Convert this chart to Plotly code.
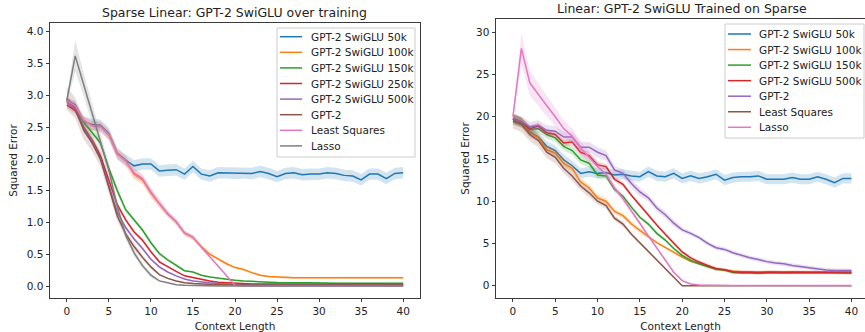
import plotly.graph_objects as go

# ---------------- data ----------------
x_ctx = list(range(41))
x_ticks = [0, 5, 10, 15, 20, 25, 30, 35, 40]

tab_colors = ["#1f77b4", "#ff7f0e", "#2ca02c", "#d62728", "#9467bd",
              "#8c564b", "#e377c2", "#7f7f7f"]

# Left panel: Sparse Linear, GPT-2 SwiGLU over training
left_title = "Sparse Linear: GPT-2 SwiGLU over training"
left_labels = ["GPT-2 SwiGLU 50k", "GPT-2 SwiGLU 100k", "GPT-2 SwiGLU 150k",
               "GPT-2 SwiGLU 250k", "GPT-2 SwiGLU 500k", "GPT-2",
               "Least Squares", "Lasso"]
left_yticks = [0.0, 0.5, 1.0, 1.5, 2.0, 2.5, 3.0, 3.5, 4.0]

L_50k = [2.92, 2.85, 2.59, 2.54, 2.53, 2.40, 2.09, 1.98, 1.89, 1.92,
         1.92, 1.81, 1.82, 1.83, 1.76, 1.88, 1.76, 1.73, 1.78, 1.78,
         1.77, 1.78, 1.77, 1.80, 1.77, 1.72, 1.77, 1.78, 1.75, 1.76,
         1.76, 1.78, 1.77, 1.74, 1.73, 1.67, 1.76, 1.76, 1.69, 1.77, 1.78]
L_100k = [2.92, 2.83, 2.61, 2.52, 2.51, 2.38, 2.08, 1.97, 1.76, 1.67,
          1.46, 1.29, 1.13, 1.01, 0.83, 0.76, 0.62, 0.50, 0.42, 0.35,
          0.29, 0.26, 0.21, 0.17, 0.15, 0.14, 0.13, 0.13, 0.13, 0.13,
          0.135, 0.13, 0.13, 0.13, 0.125, 0.13, 0.135, 0.13, 0.13, 0.13, 0.13]
L_150k = [2.92, 2.80, 2.58, 2.42, 2.25, 1.85, 1.50, 1.20, 1.04, 0.88,
          0.68, 0.51, 0.41, 0.33, 0.24, 0.22, 0.17, 0.14, 0.12, 0.10,
          0.09, 0.08, 0.07, 0.065, 0.06, 0.055, 0.05, 0.05, 0.05, 0.05,
          0.045, 0.045, 0.045, 0.045, 0.045, 0.045, 0.045, 0.045, 0.045, 0.045, 0.045]
L_250k = [2.85, 2.76, 2.50, 2.30, 2.05, 1.65, 1.28, 1.04, 0.85, 0.72,
          0.54, 0.38, 0.30, 0.23, 0.16, 0.13, 0.10, 0.08, 0.06, 0.05,
          0.04, 0.035, 0.03, 0.03, 0.03, 0.025, 0.025, 0.025, 0.025, 0.025,
          0.025, 0.025, 0.025, 0.025, 0.025, 0.025, 0.025, 0.025, 0.025, 0.025, 0.025]
L_500k = [2.90, 2.78, 2.48, 2.28, 2.00, 1.58, 1.16, 0.92, 0.74, 0.59,
          0.42, 0.30, 0.22, 0.16, 0.11, 0.08, 0.06, 0.05, 0.04, 0.03,
          0.025, 0.02, 0.02, 0.02, 0.02, 0.02, 0.02, 0.02, 0.02, 0.02,
          0.02, 0.02, 0.02, 0.02, 0.02, 0.02, 0.02, 0.02, 0.02, 0.02, 0.02]
L_gpt2 = [2.95, 2.80, 2.45, 2.25, 2.00, 1.55, 1.10, 0.82, 0.62, 0.45,
          0.30, 0.18, 0.12, 0.08, 0.05, 0.04, 0.03, 0.02, 0.02, 0.02,
          0.015, 0.015, 0.015, 0.015, 0.015, 0.015, 0.015, 0.015, 0.015, 0.015,
          0.015, 0.015, 0.015, 0.015, 0.015, 0.015, 0.015, 0.015, 0.015, 0.015, 0.015]
L_lsq = [2.92, 2.83, 2.61, 2.52, 2.50, 2.37, 2.07, 1.96, 1.78, 1.69,
         1.48, 1.30, 1.14, 1.01, 0.84, 0.77, 0.61, 0.46, 0.31, 0.16,
         0.01, 0.0, 0.0, 0.0, 0.0, 0.0, 0.0, 0.0, 0.0, 0.0,
         0.0, 0.0, 0.0, 0.0, 0.0, 0.0, 0.0, 0.0, 0.0, 0.0, 0.0]
L_lasso = [2.92, 3.62, 3.17, 2.72, 2.27, 1.82, 1.25, 0.80, 0.52, 0.32,
           0.17, 0.08, 0.05, 0.02, 0.01, 0.005, 0.0, 0.0, 0.0, 0.0,
           0.0, 0.0, 0.0, 0.0, 0.0, 0.0, 0.0, 0.0, 0.0, 0.0,
           0.0, 0.0, 0.0, 0.0, 0.0, 0.0, 0.0, 0.0, 0.0, 0.0, 0.0]

# half-widths of the shaded confidence bands (left)
LB_50k = [0.05, 0.06, 0.08] + [0.09] * 38
LB_100k = [0.05, 0.05, 0.06, 0.07, 0.08, 0.08, 0.08, 0.08, 0.08, 0.07,
           0.07, 0.06, 0.05, 0.05, 0.04, 0.04, 0.03, 0.03, 0.02, 0.02] + [0.015] * 21
LB_150k = [0.05, 0.05, 0.05, 0.05, 0.05, 0.05, 0.05, 0.04, 0.04, 0.03,
           0.03, 0.03, 0.02, 0.02] + [0.01] * 27
LB_250k = [0.05, 0.05, 0.05, 0.05, 0.05, 0.04, 0.04, 0.03, 0.03, 0.03,
           0.02, 0.02] + [0.01] * 29
LB_500k = [0.05, 0.05, 0.05, 0.05, 0.05, 0.04, 0.04, 0.03, 0.03, 0.03,
           0.02, 0.02] + [0.01] * 29
LB_gpt2 = [0.18, 0.16, 0.14, 0.13, 0.12, 0.10, 0.08, 0.06, 0.05, 0.04,
           0.03] + [0.01] * 30
LB_lsq = [0.05, 0.05, 0.06, 0.07, 0.08, 0.08, 0.08, 0.08, 0.08, 0.07,
          0.07, 0.06, 0.05, 0.05, 0.04, 0.04, 0.03, 0.02, 0.02, 0.01] + [0.0] * 21
LB_lasso = [0.05, 0.25, 0.18, 0.15, 0.13, 0.12, 0.10, 0.07, 0.05, 0.04,
            0.03] + [0.01] * 30

left_series = [L_50k, L_100k, L_150k, L_250k, L_500k, L_gpt2, L_lsq, L_lasso]
left_bands = [LB_50k, LB_100k, LB_150k, LB_250k, LB_500k, LB_gpt2, LB_lsq, LB_lasso]

# Right panel: Linear, GPT-2 SwiGLU trained on sparse
right_title = "Linear: GPT-2 SwiGLU Trained on Sparse"
right_labels = ["GPT-2 SwiGLU 50k", "GPT-2 SwiGLU 100k", "GPT-2 SwiGLU 150k",
                "GPT-2 SwiGLU 500k", "GPT-2", "Least Squares", "Lasso"]
right_yticks = [0, 5, 10, 15, 20, 25, 30]

R_50k = [19.8, 19.3, 18.2, 17.6, 16.5, 16.0, 14.9, 14.2, 13.3, 13.5,
         13.3, 13.4, 13.1, 13.2, 13.0, 12.9, 13.5, 13.0, 12.9, 13.3,
         12.7, 13.0, 12.7, 12.9, 13.2, 12.5, 12.8, 12.9, 12.9, 13.0,
         12.6, 12.6, 12.6, 12.8, 12.6, 12.6, 12.9, 12.6, 12.2, 12.7, 12.7]
R_100k = [19.7, 19.3, 18.1, 17.5, 16.1, 15.7, 14.5, 13.9, 12.3, 11.6,
          10.4, 10.0, 8.8, 8.3, 7.3, 6.5, 5.8, 5.1, 4.5, 3.9,
          3.4, 2.9, 2.6, 2.25, 2.0, 1.85, 1.7, 1.65, 1.65, 1.65,
          1.7, 1.68, 1.65, 1.7, 1.7, 1.65, 1.68, 1.65, 1.65, 1.68, 1.65]
R_150k = [19.7, 19.3, 18.5, 18.6, 17.9, 17.5, 16.5, 16.0, 14.9, 14.5,
          13.1, 13.0, 11.4, 10.6, 9.3, 8.1, 7.3, 6.2, 5.4, 4.4,
          3.6, 3.0, 2.6, 2.25, 1.95, 1.85, 1.55, 1.5, 1.5, 1.5,
          1.55, 1.55, 1.55, 1.55, 1.55, 1.55, 1.55, 1.55, 1.55, 1.55, 1.55]
R_500k = [19.8, 19.4, 18.6, 18.9, 18.1, 17.9, 16.9, 17.0, 15.8, 15.4,
          14.3, 14.1, 12.6, 12.0, 10.7, 9.5, 8.4, 7.2, 6.1, 5.0,
          4.0, 3.3, 2.8, 2.4, 2.0, 1.9, 1.65, 1.6, 1.6, 1.5,
          1.6, 1.6, 1.55, 1.6, 1.55, 1.55, 1.55, 1.55, 1.55, 1.55, 1.5]
R_gpt2 = [19.8, 19.4, 18.8, 19.0, 18.4, 18.3, 17.6, 17.6, 16.4, 16.4,
          15.8, 15.4, 13.7, 13.3, 12.1, 11.1, 10.4, 9.2, 8.4, 7.4,
          6.6, 6.2, 5.7, 5.0, 4.5, 4.3, 3.9, 3.6, 3.3, 3.1,
          2.85, 2.7, 2.6, 2.4, 2.25, 2.1, 1.95, 1.85, 1.8, 1.8, 1.8]
R_lsq = [19.5, 19.1, 17.9, 17.2, 15.8, 15.2, 13.9, 13.0, 11.8, 11.0,
         10.0, 9.5, 8.0, 7.3, 6.1, 5.1, 4.0, 3.0, 2.0, 1.0,
         0.0, 0.0, 0.0, 0.0, 0.0, 0.0, 0.0, 0.0, 0.0, 0.0,
         0.0, 0.0, 0.0, 0.0, 0.0, 0.0, 0.0, 0.0, 0.0, 0.0, 0.0]
R_lasso = [20.0, 28.1, 24.0, 22.6, 21.3, 20.0, 18.6, 17.7, 16.3, 15.2,
           14.1, 13.2, 11.6, 10.3, 8.9, 7.4, 5.9, 4.5, 3.0, 1.6,
           0.6, 0.2, 0.08, 0.05, 0.04, 0.03, 0.03, 0.03, 0.03, 0.03,
           0.03, 0.03, 0.03, 0.03, 0.03, 0.03, 0.03, 0.03, 0.03, 0.03, 0.03]

RB_50k = [0.5, 0.5] + [0.6] * 39
RB_100k = [0.6, 0.6, 0.5, 0.5, 0.5, 0.5, 0.5, 0.4, 0.4, 0.4,
           0.4, 0.4, 0.3, 0.3, 0.3, 0.3] + [0.15] * 25
RB_150k = [0.6, 0.6, 0.5, 0.5, 0.5, 0.5, 0.5, 0.5, 0.5, 0.5,
           0.4, 0.4, 0.3, 0.3] + [0.2] * 27
RB_500k = [0.6, 0.5, 0.4, 0.4, 0.4, 0.4, 0.4, 0.4, 0.4, 0.4,
           0.4, 0.3, 0.3, 0.3] + [0.2] * 27
RB_gpt2 = [0.6, 0.6, 0.6, 0.6, 0.6, 0.6, 0.6, 0.6, 0.6, 0.6,
           0.6, 0.6, 0.5, 0.5, 0.5, 0.5, 0.4, 0.4, 0.4, 0.4] + [0.25] * 21
RB_lsq = [0.9, 0.9, 0.8, 0.8, 0.7, 0.7, 0.6, 0.6, 0.5, 0.5,
          0.4, 0.4, 0.3, 0.3, 0.2, 0.2, 0.2, 0.1, 0.1, 0.1] + [0.0] * 21
RB_lasso = [0.5, 1.8, 1.5, 1.3, 1.2, 1.1, 1.0, 0.9, 0.8, 0.7,
            0.6, 0.5, 0.4, 0.3, 0.3, 0.3, 0.2, 0.2, 0.2, 0.15,
            0.1] + [0.05] * 20

right_series = [R_50k, R_100k, R_150k, R_500k, R_gpt2, R_lsq, R_lasso]
right_bands = [RB_50k, RB_100k, RB_150k, RB_500k, RB_gpt2, RB_lsq, RB_lasso]

# ---------------- figure ----------------
W, H = 865, 332
FONT = "DejaVu Sans"
TXT = "#222222"
AX = "#3a3a3a"


def rgba(hex_color, a):
    h = hex_color.lstrip("#")
    r, g, b = int(h[0:2], 16), int(h[2:4], 16), int(h[4:6], 16)
    return f"rgba({r},{g},{b},{a})"


def px(x):
    return x / W


def py(y):
    return 1 - y / H


fig = go.Figure()


def add_panel(series, bands, labels, xa, ya):
    for vals, band, lab, col in zip(series, bands, labels, tab_colors):
        upper = [v + b for v, b in zip(vals, band)]
        lower = [v - b for v, b in zip(vals, band)]
        fig.add_trace(go.Scatter(
            x=x_ctx + x_ctx[::-1], y=upper + lower[::-1],
            fill="toself", fillcolor=rgba(col, 0.2), line=dict(width=0),
            mode="lines", hoverinfo="skip", showlegend=False,
            xaxis=xa, yaxis=ya))
        fig.add_trace(go.Scatter(
            x=x_ctx, y=vals, mode="lines", name=lab,
            line=dict(color=col, width=1.5), showlegend=False,
            xaxis=xa, yaxis=ya))


add_panel(left_series, left_bands, left_labels, "x", "y")
add_panel(right_series, right_bands, right_labels, "x2", "y2")

axis_common = dict(
    showgrid=False, zeroline=False, showline=True, linecolor=AX, linewidth=1,
    ticks="outside", ticklen=3.5, tickwidth=0.8, tickcolor=AX,
    tickfont=dict(family=FONT, size=10.5, color=TXT),
)

fig.update_layout(
    width=W, height=H,
    margin=dict(l=0, r=0, t=0, b=0),
    paper_bgcolor="white", plot_bgcolor="white",
    font=dict(family=FONT, size=10.5, color=TXT),
    showlegend=False,
    xaxis=dict(domain=[px(50), px(420)], range=[-2, 42], anchor="y",
               tickvals=x_ticks, mirror=True,
               title=dict(text="Context Length", font=dict(size=10.5, color=TXT), standoff=6),
               **axis_common),
    yaxis=dict(domain=[py(297.7), py(23.3)], range=[-0.184, 4.132], anchor="x",
               tickvals=left_yticks, tickformat=".1f", mirror=True,
               title=dict(text="Squared Error", font=dict(size=10.5, color=TXT), standoff=7),
               **axis_common),
    xaxis2=dict(domain=[px(496), 1.0], range=[-2, 41.6], anchor="y2",
                tickvals=x_ticks, mirror=True,
                title=dict(text="Context Length", font=dict(size=10.5, color=TXT), standoff=6),
                **axis_common),
    yaxis2=dict(domain=[py(297.7), py(19.3)], range=[-1.42, 31.54], anchor="x2",
                tickvals=right_yticks, mirror=False,
                title=dict(text="Squared Error", font=dict(size=10.5, color=TXT), standoff=4),
                **axis_common),
)

annotations = [
    dict(text=left_title, x=px(235), y=py(12.3), xref="paper", yref="paper",
         xanchor="center", yanchor="middle", showarrow=False,
         font=dict(family=FONT, size=12.5, color=TXT)),
    dict(text=right_title, x=px(682), y=py(8.3), xref="paper", yref="paper",
         xanchor="center", yanchor="middle", showarrow=False,
         font=dict(family=FONT, size=12.5, color=TXT)),
]
shapes = []


def add_legend(labels, box, first_y, step, lx0, lx1, tx):
    x0, y0, x1, y1 = box
    shapes.append(dict(type="rect", xref="paper", yref="paper",
                       x0=px(x0), x1=px(x1), y0=py(y1), y1=py(y0),
                       fillcolor="rgba(255,255,255,0.8)",
                       line=dict(color="#cccccc", width=1), layer="above"))
    for i, (lab, col) in enumerate(zip(labels, tab_colors)):
        yc = first_y + i * step
        shapes.append(dict(type="line", xref="paper", yref="paper",
                           x0=px(lx0), x1=px(lx1), y0=py(yc), y1=py(yc),
                           line=dict(color=col, width=1.5), layer="above"))
        annotations.append(dict(text=lab, x=px(tx - 1), y=py(yc), xref="paper",
                                yref="paper", xanchor="left", yanchor="middle",
                                showarrow=False,
                                font=dict(family=FONT, size=10.5, color=TXT)))


add_legend(left_labels, (277, 28, 415, 157), 36.7, 15.6, 280, 302, 310)
add_legend(right_labels, (725, 24, 864, 138), 34.0, 15.55, 728, 751, 758)

fig.update_layout(annotations=annotations, shapes=shapes)

fig.write_html("out.html",
               config={"displayModeBar": False},
               post_script="document.body.style.margin='0px';document.body.style.overflow='hidden';")
